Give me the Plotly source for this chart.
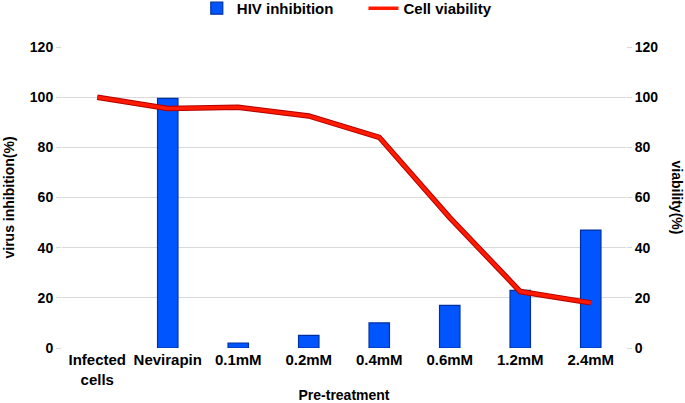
import plotly.graph_objects as go

categories = ["Infected<br>cells", "Nevirapin", "0.1mM", "0.2mM", "0.4mM", "0.6mM", "1.2mM", "2.4mM"]
hiv_inhibition = [None, 99.5, 2, 5, 10, 17, 23, 47]
cell_viability = [100, 95.5, 96, 92.5, 84, 52, 22.5, 18]
y_ticks = [0, 20, 40, 60, 80, 100, 120]

FONT = "Liberation Sans"
tickfont = dict(family=FONT, size=14, color="black", weight="bold")
xtickfont = dict(family=FONT, size=15, color="black", weight="bold")
titlefont = dict(family=FONT, size=14, color="black", weight="bold")
NB = "\u00a0"

fig = go.Figure()
fig.add_trace(go.Bar(
    x=categories, y=hiv_inhibition, name="HIV inhibition" + NB * 6,
    marker=dict(color="#0055ff", line=dict(color="#0030a0", width=1.2)),
    width=0.29, yaxis="y",
))
fig.add_trace(go.Scatter(
    x=categories, y=cell_viability, mode="lines", showlegend=False,
    line=dict(color="#b00000", width=5.5), yaxis="y2", hoverinfo="skip",
))
fig.add_trace(go.Scatter(
    x=categories, y=cell_viability, mode="lines", name="Cell viability",
    line=dict(color="#ff1a00", width=3.5), yaxis="y2",
))

fig.update_layout(
    width=685, height=403,
    margin=dict(l=62, r=59, t=47, b=55, autoexpand=False),
    paper_bgcolor="white", plot_bgcolor="white",
    font=dict(family=FONT, size=14, color="black"),
    showlegend=True,
    legend=dict(orientation="h", x=0.239, xanchor="left", y=1.183, yanchor="top",
                font=dict(family=FONT, size=15, color="black", weight="bold"),
                itemwidth=30, tracegroupgap=0, bgcolor="rgba(0,0,0,0)"),
    xaxis=dict(
        tickfont=xtickfont, showgrid=False, zeroline=False, showline=False,
        ticklabelstandoff=1,
        title=dict(text="Pre-treatment", font=titlefont, standoff=6),
    ),
    yaxis=dict(
        range=[0, 120], tickvals=y_ticks, tickfont=tickfont,
        showgrid=True, gridcolor="#d9d9d9", gridwidth=1, zeroline=False,
        ticks="outside", ticklen=5, tickcolor="#d9d9d9",
        title=dict(text="virus inhibition(%)", font=titlefont, standoff=11),
    ),
    yaxis2=dict(
        range=[0, 120], tickvals=y_ticks, tickfont=tickfont,
        overlaying="y", side="right", showgrid=False, zeroline=False,
        ticks="outside", ticklen=5, tickcolor="#d9d9d9",
    ),
    annotations=[dict(
        text="viability(%)", textangle=90, xref="paper", yref="paper",
        x=1.0, xshift=51, y=0.5, showarrow=False, xanchor="center", yanchor="middle",
        font=titlefont,
    )],
)

fig.write_html("out.html", config={"displayModeBar": False},
               post_script="document.body.style.margin='0px';document.body.style.overflow='hidden';")
